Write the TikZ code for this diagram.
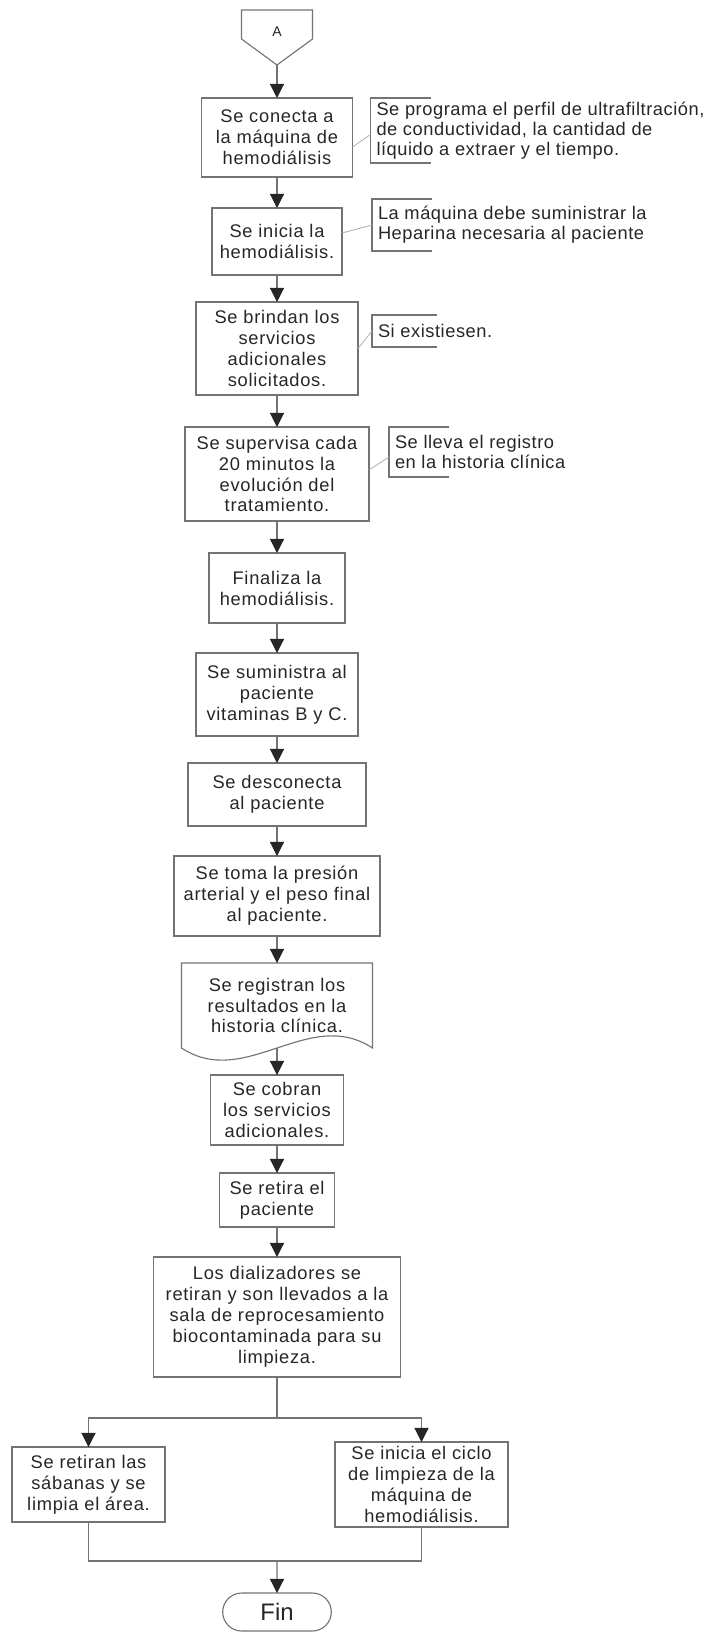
\documentclass[tikz,border=0pt]{standalone}
\usepackage{fontspec}
\setmainfont{Liberation Sans}
\newfontfamily\procfont{Liberation Sans}[LetterSpace=4]
\newfontfamily\notefont{Liberation Sans}[LetterSpace=3]
\definecolor{lc}{gray}{0.45}
\usetikzlibrary{positioning, shapes.misc, arrows.meta}

\begin{document}
\begin{tikzpicture}[
                    every node/.style = {text=black!85, outer sep=0pt},
                    proc/.style = {draw=lc, line width=0.8pt, align=center, inner sep=2pt,
                                   font=\procfont\fontsize{13}{14.9}\selectfont},
                    note/.style = {align=left, anchor=west, inner xsep=0.15cm, inner ysep=1pt,
                                   font=\notefont\fontsize{13}{14}\selectfont},
                    brk/.style = {draw=lc, line width=0.8pt},
                    link/.style = {draw=black!30, line width=0.6pt},
                    arr/.style = {draw=lc, line width=0.8pt,
                                  -{Triangle[length=10pt, width=10pt, color=black!85]}},
                    every edge/.style = {arr}]
                \useasboundingbox (0,0) rectangle (17.9,-40.825);
                % conector A
                \coordinate (atip) at (6.925,-1.625);
                \draw[brk] (6.0375,-0.25) -- (7.8125,-0.25) -- (7.8125,-0.975) -- (atip) -- (6.0375,-0.975) -- cycle;
                \node (a) at (6.925,-0.8) [font=\fontsize{10}{12}\selectfont] {A};
                % proceso
                \node (b1) [proc, minimum width=3.775cm, minimum height=1.975cm, below=0.825cm of atip] {Se conecta a\\la máquina de\\hemodiálisis};
                \node (b2) [proc, minimum width=3.25cm, minimum height=1.675cm, below=0.775cm of b1] {Se inicia la\\hemodiálisis.};
                \node (b3) [proc, minimum width=4.05cm, minimum height=2.325cm, below=0.675cm of b2] {Se brindan los\\servicios\\adicionales\\solicitados.};
                \node (b4) [proc, minimum width=4.6cm, minimum height=2.35cm, below=0.8cm of b3] {Se supervisa cada\\20 minutos la\\evolución del\\tratamiento.};
                \node (b5) [proc, minimum width=3.4cm, minimum height=1.75cm, below=0.8cm of b4] {Finaliza la\\hemodiálisis.};
                \node (b6) [proc, minimum width=4.05cm, minimum height=2.075cm, below=0.75cm of b5] {Se suministra al\\paciente\\vitaminas B y C.};
                \node (b7) [proc, minimum width=4.45cm, minimum height=1.575cm, below=0.675cm of b6] {Se desconecta\\al paciente};
                \node (b8) [proc, minimum width=5.15cm, minimum height=2cm, below=0.75cm of b7] {Se toma la presión\\arterial y el peso final\\al paciente.};
                \node (b9) [proc, draw=none, minimum width=4.775cm, minimum height=2.125cm, below=0.675cm of b8] {Se registran los\\resultados en la\\historia clínica.};
                \draw[brk] (b9.south west) -- (b9.north west) -- (b9.north east) -- (b9.south east)
                    .. controls +(-1.6,1.05) and +(1.6,-1.05) .. (b9.south west);
                \node (b10) [proc, minimum width=3.325cm, minimum height=1.75cm, below=0.675cm of b9] {Se cobran\\los servicios\\adicionales.};
                \node (b11) [proc, minimum width=2.875cm, minimum height=1.35cm, below=0.7cm of b10] {Se retira el\\paciente};
                \node (b12) [proc, minimum width=6.175cm, minimum height=3cm, below=0.75cm of b11] {Los dializadores se\\retiran y son llevados a la\\sala de reprocesamiento\\biocontaminada para su\\limpieza.};
                % anotaciones
                \node (n1) [note, minimum height=1.625cm, right=0.45cm of b1, yshift=0.175cm] {Se programa el perfil de ultrafiltración,\\de conductividad, la cantidad de\\líquido a extraer y el tiempo.};
                \node (n2) [note, minimum height=1.3cm, right=0.75cm of b2, yshift=0.4125cm] {La máquina debe suministrar la\\Heparina necesaria al paciente};
                \node (n3) [note, minimum height=0.8cm, right=0.35cm of b3, yshift=0.4375cm] {Si existiesen.};
                \node (n4) [note, minimum height=1.25cm, right=0.5cm of b4, yshift=0.55cm] {Se lleva el registro\\en la historia clínica};
                \draw[brk] ([xshift=1.5cm]n1.north west) -- (n1.north west) -- (n1.south west) -- ++(1.5cm,0);
                \draw[brk] ([xshift=1.5cm]n2.north west) -- (n2.north west) -- (n2.south west) -- ++(1.5cm,0);
                \draw[brk] ([xshift=1.625cm]n3.north west) -- (n3.north west) -- (n3.south west) -- ++(1.625cm,0);
                \draw[brk] ([xshift=1.5cm]n4.north west) -- (n4.north west) -- (n4.south west) -- ++(1.5cm,0);
                \draw[link] ([yshift=-0.2375cm]b1.east) -- ([yshift=-0.1cm]n1.west);
                \draw[link] ([yshift=0.2125cm]b2.east) -- (n2.west);
                \draw[link] (b3.east) -- (n3.west);
                \draw[link] ([yshift=0.1cm]b4.east) -- ([yshift=-0.125cm]n4.west);
                % flechas
                \draw (atip) edge (b1) (b1) edge (b2) (b2) edge (b3) (b3) edge (b4)
                      (b4) edge (b5) (b5) edge (b6) (b6) edge (b7) (b7) edge (b8)
                      (b8) edge (b9) (b9) edge (b10) (b10) edge (b11) (b11) edge (b12);
                % ramas finales
                \coordinate[below=1.025cm of b12] (split);
                \node (bl) [proc, minimum width=3.825cm, minimum height=1.875cm, below=0.725cm of split, xshift=-4.7125cm] {Se retiran las\\sábanas y se\\limpia el área.};
                \node (br) [proc, minimum width=4.325cm, minimum height=2.125cm, below=0.6cm of split, xshift=3.6125cm] {Se inicia el ciclo\\de limpieza de la\\máquina de\\hemodiálisis.};
                \coordinate[below=3.575cm of split] (merge);
                \node (fin) [rounded rectangle, draw=lc, line width=0.8pt, minimum width=2.95cm, minimum height=0.95cm,
                             below=0.8cm of merge, font=\fontsize{17}{20}\selectfont] {Fin};
                \draw[brk] (b12) -- (split);
                \draw[arr] (split) -| (bl);
                \draw[arr] (split) -| (br);
                \draw[brk] (bl) |- (merge) -| (br);
                \draw[arr] (merge) -- (fin);
            \end{tikzpicture}
\end{document}
